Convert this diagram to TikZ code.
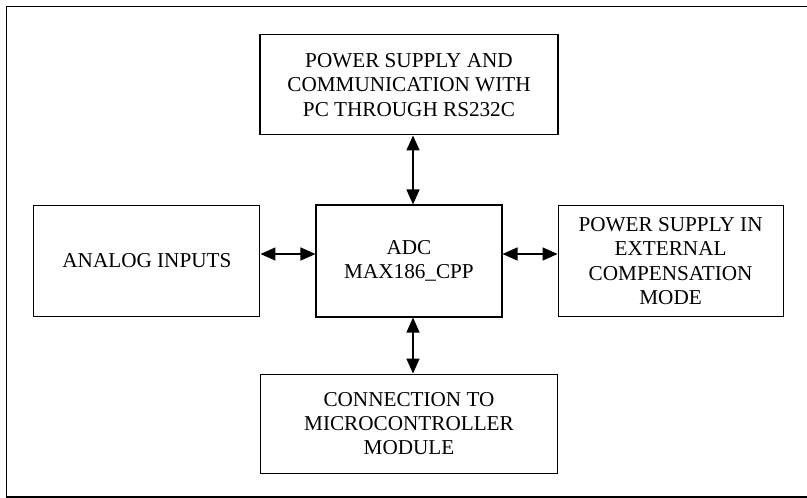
\documentclass[tikz,border=0pt]{standalone}
\usepackage{fontspec}
\setmainfont{Liberation Serif}
\usetikzlibrary{arrows.meta, positioning}

\begin{document}
\begin{tikzpicture}[
  x=1pt, y=1pt,
  box/.style={draw, line width=1.1pt, inner sep=2pt, align=center,
              font=\fontsize{21.2}{24.3}\selectfont},
  arr/.style={{Triangle[length=15pt,width=13pt]}-{Triangle[length=15pt,width=13pt]},
              line width=1.5pt},
  node distance=55pt and 55pt,
]
  \useasboundingbox (0,0) rectangle (807,-498);
  \draw[line width=1.1pt] (6.5,-6.5) rectangle (815,-497);

  \node[box, minimum width=186pt, minimum height=112pt] (adc) at (409,-261) {ADC\\MAX186\_CPP};
  \node[box, left=of adc, minimum width=226pt, minimum height=111pt] (anlg) {ANALOG INPUTS};
  \node[box, right=of adc, minimum width=225pt, minimum height=111pt] (ext) {POWER SUPPLY IN\\EXTERNAL\\COMPENSATION\\MODE};
  \node[box, above=69pt of adc, minimum width=298pt, minimum height=100pt] (pc) {POWER SUPPLY AND\\COMMUNICATION WITH\\PC THROUGH RS232C};
  \node[box, below=56pt of adc, minimum width=297pt, minimum height=99pt] (mcu) {CONNECTION TO\\MICROCONTROLLER\\MODULE};

  \draw[arr] ([xshift=4pt]pc.south) -- ([xshift=4pt]adc.north);
  \draw[arr] ([xshift=4pt]adc.south) -- ([xshift=4pt]mcu.north);
  \draw[arr] ([yshift=7pt]anlg.east) -- ([yshift=7pt]adc.west);
  \draw[arr] ([yshift=7pt]adc.east) -- ([yshift=7pt]ext.west);
\end{tikzpicture}
\end{document}
